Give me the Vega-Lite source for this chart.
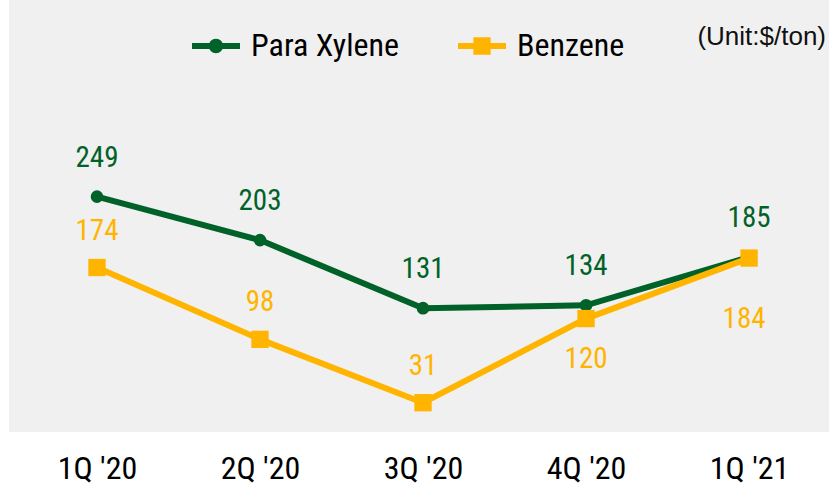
{
  "$schema": "https://vega.github.io/schema/vega-lite/v6.json",
  "width": 820,
  "height": 432,
  "autosize": "none",
  "padding": {"left": 9, "top": 0, "right": 0, "bottom": 57},
  "background": "white",
  "config": {
    "view": {"fill": "#f0f0f0", "stroke": null},
    "font": "'Roboto Condensed', 'DejaVu Sans Condensed', 'Liberation Sans'"
  },
  "title": {
    "text": "(Unit:$/ton)",
    "anchor": "end",
    "frame": "group",
    "orient": "top",
    "baseline": "top",
    "font": "Liberation Sans",
    "fontSize": 26,
    "fontWeight": "normal",
    "color": "#111111",
    "offset": 0,
    "dy": 50,
    "dx": -3
  },
  "data": {
    "values": [
      {"quarter": "1Q '20", "series": "Para Xylene", "value": 249},
      {"quarter": "2Q '20", "series": "Para Xylene", "value": 203},
      {"quarter": "3Q '20", "series": "Para Xylene", "value": 131},
      {"quarter": "4Q '20", "series": "Para Xylene", "value": 134},
      {"quarter": "1Q '21", "series": "Para Xylene", "value": 185},
      {"quarter": "1Q '20", "series": "Benzene", "value": 174},
      {"quarter": "2Q '20", "series": "Benzene", "value": 98},
      {"quarter": "3Q '20", "series": "Benzene", "value": 31},
      {"quarter": "4Q '20", "series": "Benzene", "value": 120},
      {"quarter": "1Q '21", "series": "Benzene", "value": 184}
    ]
  },
  "encoding": {
    "x": {
      "field": "quarter",
      "type": "ordinal",
      "sort": ["1Q '20", "2Q '20", "3Q '20", "4Q '20", "1Q '21"],
      "scale": {"type": "point", "padding": 0.515, "align": 0.524},
      "axis": {
        "title": null,
        "domain": false,
        "ticks": false,
        "labelAngle": 0,
        "labelFontSize": 32,
        "labelColor": "#000000",
        "labelPadding": 21,
        "labelBaseline": "top",
        "grid": false
      }
    },
    "y": {
      "field": "value",
      "type": "quantitative",
      "scale": {"domain": [0, 457], "nice": false, "zero": true},
      "axis": null
    },
    "color": {
      "field": "series",
      "type": "nominal",
      "scale": {"domain": ["Para Xylene", "Benzene"], "range": ["#006228", "#ffb400"]},
      "legend": null
    }
  },
  "layer": [
    {
      "mark": {"type": "line", "strokeWidth": 6},
      "encoding": {"order": {"field": "series", "sort": "descending"}}
    },
    {
      "transform": [{"filter": "datum.series === 'Para Xylene'"}],
      "mark": {"type": "point", "shape": "circle", "filled": true, "opacity": 1, "size": 160}
    },
    {
      "transform": [{"filter": "datum.series === 'Benzene'"}],
      "mark": {"type": "point", "shape": "square", "filled": true, "opacity": 1, "size": 300}
    },
    {
      "transform": [{"filter": "datum.series === 'Para Xylene'"}],
      "mark": {"type": "text", "fontSize": 29, "dy": -39, "baseline": "middle"},
      "encoding": {"text": {"field": "value", "type": "quantitative"}}
    },
    {
      "transform": [{"filter": "datum.series === 'Benzene' && indexof(['1Q \\'20','2Q \\'20','3Q \\'20'], datum.quarter) >= 0"}],
      "mark": {"type": "text", "fontSize": 29, "dy": -37, "baseline": "middle"},
      "encoding": {"text": {"field": "value", "type": "quantitative"}}
    },
    {
      "transform": [{"filter": "datum.series === 'Benzene' && datum.quarter === '4Q \\'20'"}],
      "mark": {"type": "text", "fontSize": 29, "dy": 40, "baseline": "middle"},
      "encoding": {"text": {"field": "value", "type": "quantitative"}}
    },
    {
      "transform": [{"filter": "datum.series === 'Benzene' && datum.quarter === '1Q \\'21'"}],
      "mark": {"type": "text", "fontSize": 29, "dy": 61, "dx": -5, "baseline": "middle"},
      "encoding": {"text": {"field": "value", "type": "quantitative"}}
    },
    {
      "mark": {"type": "point", "opacity": 0, "filled": true},
      "encoding": {
        "shape": {
          "field": "series",
          "type": "nominal",
          "scale": {
            "domain": ["Para Xylene", "Benzene"],
            "range": [
              "M-1,-0.125H1V0.125H-1Z M0.3,0A0.3,0.3,0,1,1,-0.3,0A0.3,0.3,0,1,1,0.3,0Z",
              "M-1,-0.125H1V0.125H-1Z M-0.36,-0.36H0.36V0.36H-0.36Z"
            ]
          },
          "legend": {
            "title": null,
            "orient": "none",
            "legendX": 183,
            "legendY": 22,
            "direction": "horizontal",
            "symbolSize": 2304,
            "symbolOpacity": 1,
            "symbolStrokeWidth": 0,
            "symbolFillColor": {"expr": "datum.value === 'Para Xylene' ? '#006228' : '#ffb400'"},
            "labelFontSize": 32,
            "labelColor": "#000000",
            "labelOffset": 11,
            "columnPadding": 58,
            "labelLimit": 300
          }
        }
      }
    }
  ],
  "resolve": {"scale": {"shape": "independent"}}
}
